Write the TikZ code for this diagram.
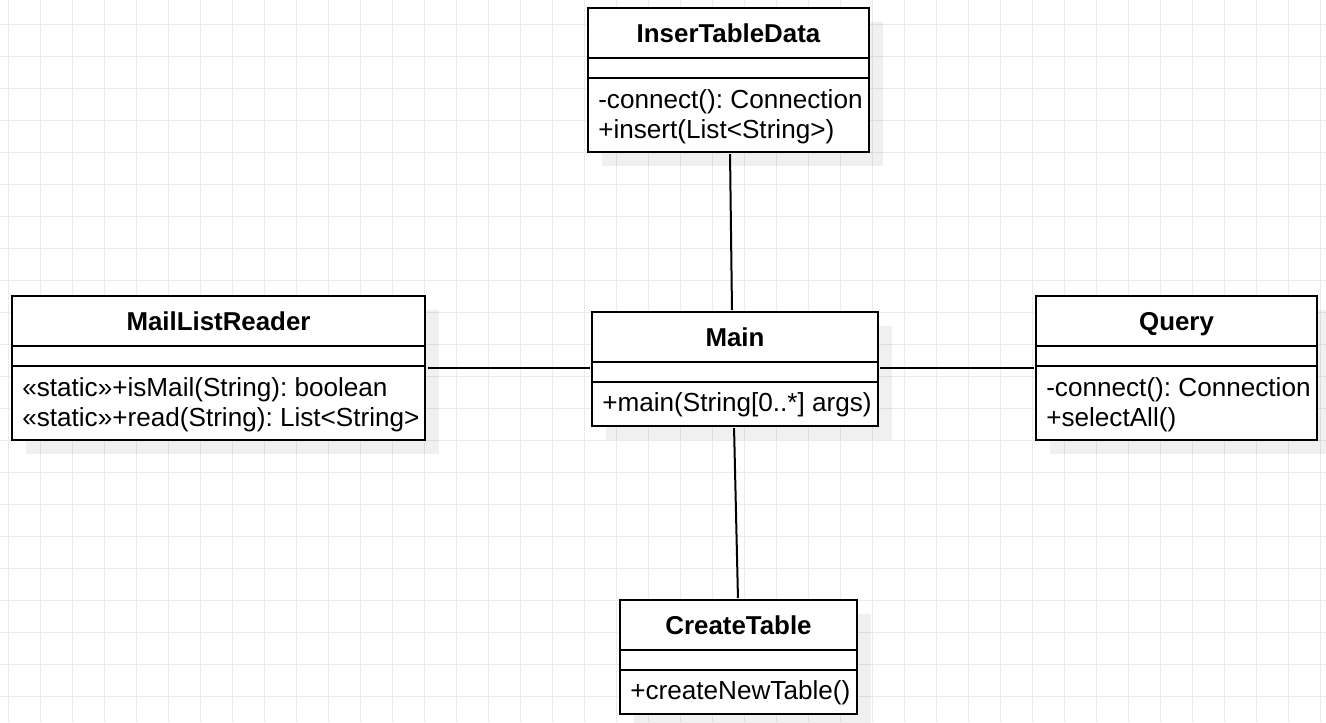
\documentclass[tikz,border=0pt]{standalone}
\usepackage{fontspec}
\setmainfont{Liberation Sans}
\usetikzlibrary{shadows,calc}
\def\PX{0.75pt}
\frenchspacing
\tikzset{
  gridline/.style={draw=black!8, line width=0.75pt},
  classbox/.style={draw=black, line width=1.5pt, fill=white, inner sep=0pt, outer sep=0pt,
    drop shadow={shadow xshift=10.5pt, shadow yshift=-10.5pt, fill=black, opacity=0.06}},
  sepline/.style={draw=black, line width=1.5pt},
  titletext/.style={inner sep=0pt, font=\fontsize{19.4}{23}\selectfont\bfseries},
  methtext/.style={inner sep=0pt, anchor=base west, font=\fontsize{19.6}{23}\selectfont},
  assoc/.style={draw=black, line width=1.5pt},
}
\newcommand\umlclass[6]{%
  \node[classbox, minimum width=#4*\PX, minimum height=#5*\PX, anchor=north west] (#1) at (#2,#3) {};
  \node[titletext, anchor=base] (#1-title) at ([yshift=-34*\PX]#1.north) {#6};
  \draw[sepline] ([yshift=-50*\PX]#1.north west) -- ([yshift=-50*\PX]#1.north east);
  \draw[sepline] ([yshift=-70*\PX]#1.north west) -- ([yshift=-70*\PX]#1.north east);
}
\begin{document}
\frenchspacing
\begin{tikzpicture}[x=0.75pt,y=-0.75pt]
\useasboundingbox (0,0) rectangle (1326,722);
\fill[white] (0,0) rectangle (1326,722);
\foreach \x in {8,40,...,1320} \draw[gridline] (\x,0) -- (\x,722);
\foreach \y in {24,56,...,720} \draw[gridline] (0,\y) -- (1326,\y);

% classes
\umlclass{itd}{588}{8}{281}{144}{InserTableData}
\node[methtext] (itd-m1) at ([xshift=10*\PX, yshift=-100*\PX]itd.north west) {-connect(): Connection};
\node[methtext] (itd-m2) at ([xshift=10*\PX, yshift=-130*\PX]itd.north west) {+insert(List<String>)};

\umlclass{mlr}{12}{296}{413}{144}{MailListReader}
\node[methtext] (mlr-m1) at ([xshift=10*\PX, yshift=-100*\PX]mlr.north west) {«static»+isMail(String): boolean};
\node[methtext] (mlr-m2) at ([xshift=10*\PX, yshift=-130*\PX]mlr.north west) {«static»+read(String): List<String>};

\umlclass{main}{592}{312}{286}{114}{Main}
\node[methtext] (main-m1) at ([xshift=10*\PX, yshift=-99*\PX]main.north west) {+main(String[0..*] args)};

\umlclass{qry}{1036}{296}{281}{144}{Query}
\node[methtext] (qry-m1) at ([xshift=10*\PX, yshift=-100*\PX]qry.north west) {-connect(): Connection};
\node[methtext] (qry-m2) at ([xshift=10*\PX, yshift=-130*\PX]qry.north west) {+selectAll()};

\umlclass{ct}{620}{600}{237}{114}{CreateTable}
\node[methtext] (ct-m1) at ([xshift=10*\PX, yshift=-99*\PX]ct.north west) {+createNewTable()};

% associations
\draw[assoc, shorten <=1.5pt, shorten >=1.5pt] ([xshift=1.5*\PX]itd.south) -- ([xshift=-3*\PX]main.north);
\draw[assoc, shorten <=1.5pt, shorten >=1.5pt] ([xshift=-1*\PX]main.south) -- ([xshift=-0.5*\PX]ct.north);
\draw[assoc, shorten <=2.25pt, shorten >=1.5pt] ([yshift=-72*\PX]mlr.north east) -- ([yshift=-72*\PX]mlr.north east -| main.west);
\draw[assoc, shorten <=1.5pt, shorten >=1.5pt] ([yshift=-56*\PX]main.north east) -- ([yshift=-56*\PX]main.north east -| qry.west);
\end{tikzpicture}
\end{document}
